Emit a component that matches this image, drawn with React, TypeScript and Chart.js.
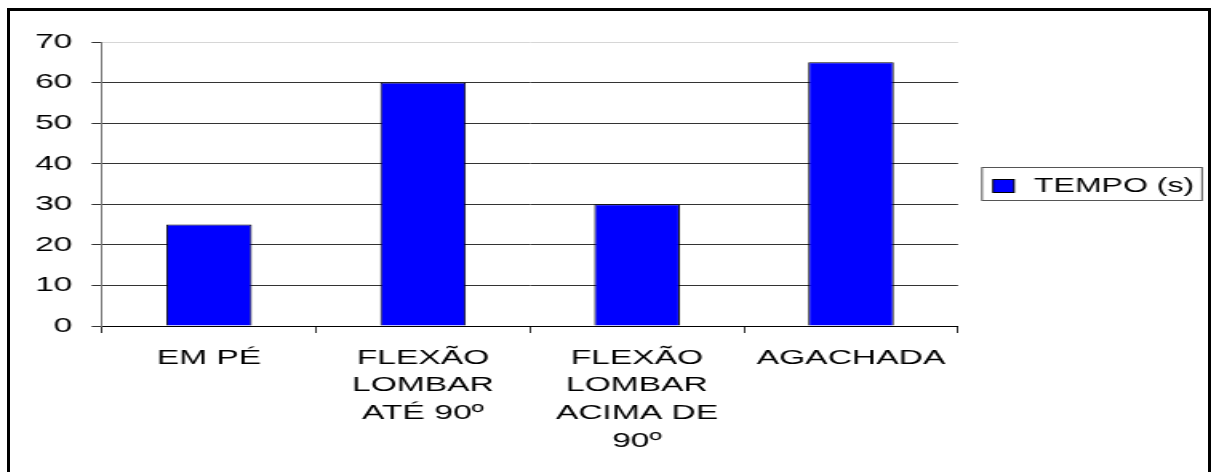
import React, { useEffect, useRef } from "react";
import { Chart, registerables } from "chart.js";

Chart.register(...registerables);

// ---- data ----
const categories: string[][] = [
  ["EM PÉ"],
  ["FLEXÃO", "LOMBAR", "ATÉ 90º"],
  ["FLEXÃO", "LOMBAR", "ACIMA DE", "90º"],
  ["AGACHADA"],
];
const seriesLabel = "TEMPO (s)";
const tempoValues = [25, 60, 30, 65];
const yTickValues = [0, 10, 20, 30, 40, 50, 60, 70];

// ---- geometry (the reference is horizontally stretched) ----
const CSS_W = 1211;
const CSS_H = 472;
const W = 757;
const SX = CSS_W / W;
const FONT = '"Liberation Sans", Arial, sans-serif';

const legendPlugin = {
  id: "customLegend",
  afterDraw(chart: any) {
    const ctx = chart.ctx;
    const ds = chart.data.datasets[0];
    ctx.save();
    const bx = 982 / SX;
    const by = 167.5;
    const bw = (1202 - 982) / SX;
    const bh = 33;
    ctx.lineWidth = 1;
    ctx.strokeStyle = "#555";
    ctx.strokeRect(bx, by, bw, bh);
    const sx = 993 / SX;
    ctx.fillStyle = ds.backgroundColor;
    ctx.fillRect(sx, 179.5, (1014 - 993) / SX, 13);
    ctx.strokeStyle = "#000";
    ctx.strokeRect(sx, 179.5, (1014 - 993) / SX, 13);
    ctx.fillStyle = "#000";
    ctx.font = `20px ${FONT}`;
    ctx.textBaseline = "middle";
    ctx.textAlign = "left";
    ctx.fillText(ds.label, 1034 / SX, 186);
    ctx.restore();
  },
};

export default function App() {
  const ref = useRef<HTMLCanvasElement | null>(null);

  useEffect(() => {
    if (!ref.current) return;
    const chart = new Chart(ref.current, {
      type: "bar",
      data: {
        labels: categories,
        datasets: [
          {
            label: seriesLabel,
            data: tempoValues,
            backgroundColor: "#0000ff",
            borderColor: "#000000",
            borderWidth: 1,
            barPercentage: 0.4,
            categoryPercentage: 1,
          },
        ],
      },
      options: {
        responsive: false,
        animation: false,
        events: [],
        layout: {
          padding: { left: 0, top: 42, right: W - 958 / SX, bottom: 0 },
        },
        plugins: {
          legend: { display: false },
          tooltip: { enabled: false },
        },
        scales: {
          x: {
            afterFit: (scale: any) => {
              scale.height = CSS_H - 326;
            },
            grid: {
              display: true,
              drawOnChartArea: false,
              drawTicks: true,
              tickLength: 7,
              color: "#333",
              offset: true,
            },
            border: { display: true, color: "#000", width: 1 },
            ticks: {
              color: "#000",
              font: { family: FONT, size: 21, lineHeight: 1.32 },
              padding: 11,
              maxRotation: 0,
              minRotation: 0,
              autoSkip: false,
            },
          },
          y: {
            min: 0,
            max: 70,
            afterFit: (scale: any) => {
              scale.width = 102 / SX;
            },
            afterBuildTicks: (scale: any) => {
              scale.ticks = yTickValues.map((v) => ({ value: v }));
            },
            grid: {
              color: (c: any) =>
                c.tick && c.tick.value === 70 ? "#d6d6d6" : c.tick && c.tick.value === 0 ? "#000" : "#333",
              tickColor: "#333",
              tickLength: 6.5,
              lineWidth: 1,
            },
            border: { display: true, color: "#777", width: 1 },
            ticks: {
              color: "#000",
              font: { family: FONT, size: 21 },
              padding: 12,
            },
          },
        },
      },
      plugins: [legendPlugin],
    } as any);
    return () => chart.destroy();
  }, []);

  return (
    <div
      style={{
        position: "fixed",
        left: 0,
        top: 0,
        width: CSS_W,
        height: CSS_H,
        overflow: "hidden",
        background: "#fff",
      }}
    >
      <canvas
        ref={ref}
        width={W}
        height={CSS_H}
        style={{ width: CSS_W + "px", height: CSS_H + "px", display: "block" }}
      />
      <div
        style={{
          position: "absolute",
          left: 7,
          top: 8,
          width: CSS_W - 7,
          height: 520,
          boxSizing: "border-box",
          border: "3px solid #000",
          borderBottom: "none",
          pointerEvents: "none",
        }}
      />
    </div>
  );
}
